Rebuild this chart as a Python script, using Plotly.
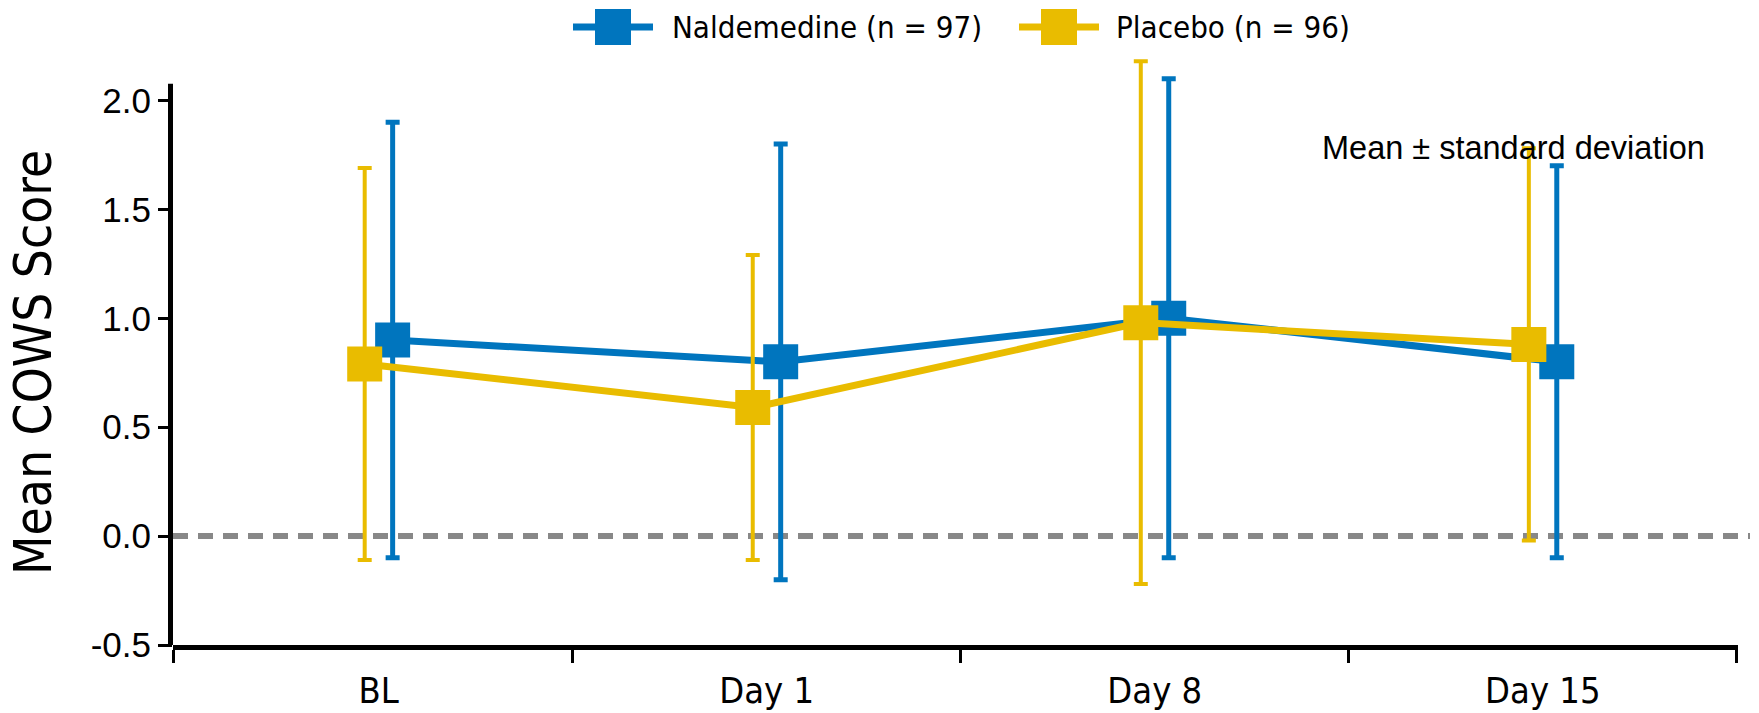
import plotly.graph_objects as go

# Mean COWS score by visit, mean ± SD
visits = ["BL", "Day 1", "Day 8", "Day 15"]
nald_mean = [0.90, 0.80, 1.00, 0.80]
nald_sd = [1.00, 1.00, 1.10, 0.90]
plac_mean = [0.79, 0.59, 0.98, 0.88]
plac_sd = [0.90, 0.70, 1.20, 0.90]

y_ticks = [-0.5, 0.0, 0.5, 1.0, 1.5, 2.0]
y_tick_labels = ["-0.5", "0.0", "0.5", "1.0", "1.5", "2.0"]

nald_label = "Naldemedine (n = 97)"
plac_label = "Placebo (n = 96)"
y_title = "Mean COWS Score"
note = "Mean ± standard deviation"

BLUE = "#0075BE"
GOLD = "#E9BC00"
NARROW = "'DejaVu Sans Condensed', Roboto, sans-serif"
SANS = "'Liberation Sans', Arial, sans-serif"

W, H = 1759, 713
L, R, T, B = 173, 21, 46, 68
PW, PH = W - L - R, H - T - B

X_RANGE = [-0.53, 3.503]
Y_RANGE = [-0.5, 2.25]
Y_AXIS_TOP = 2.077  # the drawn spine stops a little above the last tick


def px_x(x):
    return (x - L) / PW


def px_y(y):
    return (H - B - y) / PH


# small horizontal dodge so the two groups don't overlap
DODGE = 0.036
pos = list(range(len(visits)))

fig = go.Figure()

fig.add_trace(go.Scatter(
    x=[p + DODGE for p in pos], y=nald_mean, name=nald_label,
    mode="lines+markers", cliponaxis=False,
    line=dict(color=BLUE, width=7),
    marker=dict(symbol="square", size=35, color=BLUE),
    error_y=dict(type="data", array=nald_sd, visible=True,
                 color=BLUE, thickness=5, width=7),
    showlegend=False,
))
fig.add_trace(go.Scatter(
    x=[p - DODGE for p in pos], y=plac_mean, name=plac_label,
    mode="lines+markers", cliponaxis=False,
    line=dict(color=GOLD, width=7),
    marker=dict(symbol="square", size=35, color=GOLD),
    error_y=dict(type="data", array=plac_sd, visible=True,
                 color=GOLD, thickness=4, width=7),
    showlegend=False,
))

# dashed reference line at zero
fig.add_shape(type="line", xref="paper", yref="y", x0=0, x1=px_x(1750),
              y0=0, y1=0, layer="below",
              line=dict(color="#888888", width=6, dash="15px,10px"))

# y spine, drawn up to just above the top tick
fig.add_shape(type="line", xref="paper", yref="y",
              x0=px_x(L - 2.5), x1=px_x(L - 2.5),
              y0=Y_RANGE[0] - 5 / 217.7, y1=Y_AXIS_TOP,
              line=dict(color="black", width=5))

# legend drawn as line + square swatches with labels
legend_items = [(613, BLUE, 670, nald_label), (1059, GOLD, 1114, plac_label)]
ly = 27
for cx, col, tx, txt in legend_items:
    fig.add_shape(type="line", xref="paper", yref="paper",
                  x0=px_x(cx - 40), x1=px_x(cx + 40), y0=px_y(ly), y1=px_y(ly),
                  line=dict(color=col, width=7))
    fig.add_shape(type="rect", xref="paper", yref="paper",
                  x0=px_x(cx - 18), x1=px_x(cx + 18),
                  y0=px_y(ly + 18), y1=px_y(ly - 18),
                  fillcolor=col, line=dict(width=0))
    fig.add_annotation(text=txt, xref="paper", yref="paper",
                       x=px_x(tx), y=px_y(ly), xanchor="left", yanchor="middle",
                       showarrow=False, font=dict(family=NARROW, size=31, color="black"))

fig.add_annotation(text=note, xref="paper", yref="paper",
                   x=px_x(1513), y=px_y(148), xanchor="center", yanchor="middle",
                   showarrow=False, font=dict(family=SANS, size=32.5, color="black"))

fig.add_annotation(text=y_title, xref="paper", yref="paper",
                   x=px_x(33), y=px_y(363), xanchor="center", yanchor="middle",
                   textangle=-90, showarrow=False,
                   font=dict(family=NARROW, size=51, color="black"))

fig.update_layout(
    width=W, height=H,
    margin=dict(l=L, r=R, t=T, b=B),
    plot_bgcolor="white", paper_bgcolor="white",
    showlegend=False,
)

fig.update_xaxes(
    range=X_RANGE, automargin=False,
    tickmode="array", tickvals=pos, ticktext=visits,
    ticks="", showgrid=False, zeroline=False,
    showline=True, linecolor="black", linewidth=5,
    tickfont=dict(family=NARROW, size=36, color="black"),
    ticklabelstandoff=10,
    minor=dict(tickmode="array", tickvals=[X_RANGE[0], 0.5, 1.5, 2.5, 3.5],
               ticks="outside", ticklen=13, tickwidth=2.5, tickcolor="black",
               showgrid=False),
)
fig.update_yaxes(
    range=Y_RANGE, automargin=False,
    tickmode="array", tickvals=y_ticks, ticktext=y_tick_labels,
    ticks="outside", ticklen=14, tickwidth=2.5, tickcolor="black",
    showgrid=False, zeroline=False, showline=False,
    tickfont=dict(family=SANS, size=35, color="black"),
)

fig.write_html("out.html")
